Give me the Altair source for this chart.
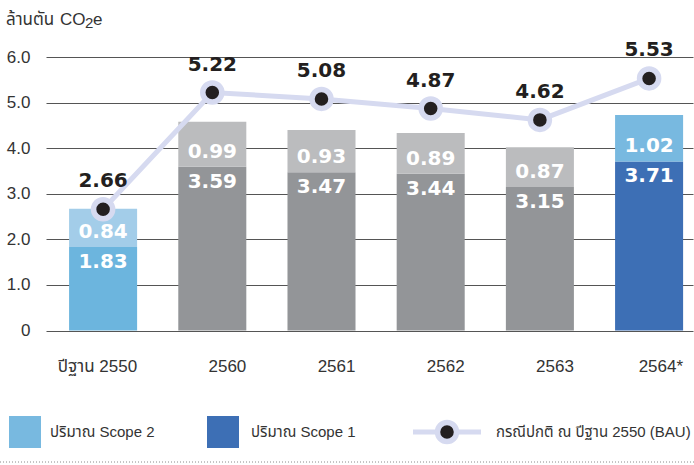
import altair as alt
import pandas as pd

# Emission figures (million tonnes CO2e)
categories = ["ปีฐาน 2550", "2560", "2561", "2562", "2563", "2564*"]
scope1 = [1.83, 3.59, 3.47, 3.44, 3.15, 3.71]
scope2 = [0.84, 0.99, 0.93, 0.89, 0.87, 1.02]
bau = [2.66, 5.22, 5.08, 4.87, 4.62, 5.53]
period = ["base", "hist", "hist", "hist", "hist", "target"]

legend_labels = ["ปริมาณ Scope 2", "ปริมาณ Scope 1", "กรณีปกติ ณ ปีฐาน 2550 (BAU)"]

df = pd.DataFrame({"cat": categories, "s1": scope1, "s2": scope2,
                   "bau": bau, "period": period})
df["top"] = df["s1"] + df["s2"]

period_domain = ["base", "hist", "target"]
scope1_colors = ["#6cb5de", "#939598", "#3d6fb5"]
scope2_colors = ["#a3cde9", "#bbbcbe", "#78b9e0"]
LAVENDER = "#d6daf0"
INK = "#231f20"

THAI = "Liberation Sans, Noto Sans Thai, sans-serif"
NUM = "DejaVu Sans"

x_enc = alt.X(
    "cat:N", sort=categories, title=None,
    scale=alt.Scale(paddingInner=0.377, paddingOuter=0.151, align=0.7),
    axis=alt.Axis(labelAlign="right", labelOffset=34, labelPadding=28,
                  labelFontSize=17, labelFont=THAI, labelColor="#333333",
                  labelAngle=0, domain=False, ticks=False, grid=False),
)

y_scale = alt.Scale(domain=[0, 6], nice=False, zero=True)
y_axis = alt.Axis(values=[0, 1, 2, 3, 4, 5, 6],
                  labelExpr="datum.value == 0 ? '0' : format(datum.value, '.1f')",
                  labelFont=THAI, labelFontSize=17, labelColor="#333333",
                  labelPadding=16, labelAlign="right", labelBaseline="middle",
                  domain=False, ticks=False, grid=True,
                  gridColor="#555555", gridWidth=1)


def y_enc(field):
    return alt.Y(f"{field}:Q", title=None, scale=y_scale, axis=y_axis)


base = alt.Chart(df)

bars1 = base.mark_bar().encode(
    x=x_enc, y=y_enc("s1"), y2=alt.datum(0),
    color=alt.Color("period:N", legend=None,
                    scale=alt.Scale(domain=period_domain, range=scope1_colors)),
)
bars2 = base.mark_bar().encode(
    x=x_enc, y=y_enc("s1"), y2="top:Q",
    color=alt.Color("period:N", legend=None,
                    scale=alt.Scale(domain=period_domain, range=scope2_colors)),
)

lbl1 = base.mark_text(font=NUM, fontWeight="bold", fontSize=20, color="white",
                      baseline="middle", dy=15).encode(
    x=x_enc, y=y_enc("s1"), text=alt.Text("s1:Q", format=".2f"))
lbl2 = base.mark_text(font=NUM, fontWeight="bold", fontSize=20, color="white",
                      baseline="middle", dy=-15).encode(
    x=x_enc, y=y_enc("s1"), text=alt.Text("s2:Q", format=".2f"))

line = base.mark_line(color=LAVENDER, strokeWidth=5).encode(x=x_enc, y=y_enc("bau"))
dots = base.mark_circle(size=363, color=INK, opacity=1, stroke=LAVENDER,
                        strokeWidth=5.5).encode(x=x_enc, y=y_enc("bau"))
totals = base.mark_text(font=NUM, fontWeight="bold", fontSize=20, color=INK,
                        baseline="middle", dy=-28).encode(
    x=x_enc, y=y_enc("bau"), text=alt.Text("bau:Q", format=".2f"))

# Unit caption above the value axis
one = pd.DataFrame({"k": [0]})


def caption(text, xpos, ypos, size):
    return alt.Chart(one).mark_text(font=THAI, fontSize=size, color="#333333",
                                    align="left", baseline="middle").encode(
        x=alt.value(xpos), y=alt.value(ypos), text=alt.value(text))


unit_th = caption("ล้านตัน", -40, -37, 17)
unit_co = caption("CO", 14, -37, 17)
unit_sub = caption("2", 39, -34, 15)
unit_e = caption("e", 47, -37, 17)

# Legend row beneath the chart
leg_y = 375
sw1 = alt.Chart(one).mark_rect(color=scope2_colors[2]).encode(
    x=alt.value(-37), x2=alt.value(-5), y=alt.value(leg_y - 16), y2=alt.value(leg_y + 16))
sw2 = alt.Chart(one).mark_rect(color=scope1_colors[2]).encode(
    x=alt.value(161), x2=alt.value(193), y=alt.value(leg_y - 16), y2=alt.value(leg_y + 16))
leg_line = alt.Chart(one).mark_rule(color=LAVENDER, strokeWidth=5).encode(
    x=alt.value(367), x2=alt.value(435), y=alt.value(leg_y))
leg_dot = alt.Chart(one).mark_circle(size=363, color=INK, opacity=1, stroke=LAVENDER,
                                     strokeWidth=5.5).encode(
    x=alt.value(401), y=alt.value(leg_y))


def leg_text(label, xpos):
    return alt.Chart(pd.DataFrame({"t": [label]})).mark_text(
        font=THAI, fontSize=15, color="#333333", align="left", baseline="middle"
    ).encode(x=alt.value(xpos), y=alt.value(leg_y), text="t:N")


leg_t1 = leg_text(legend_labels[0], 4)
leg_t2 = leg_text(legend_labels[1], 205)
leg_t3 = leg_text(legend_labels[2], 450)

dotted = alt.Chart(one).mark_rule(color="#8a8a8a", strokeWidth=1,
                                  strokeDash=[1, 2]).encode(
    x=alt.value(-46), x2=alt.value(648), y=alt.value(405))

chart = alt.layer(
    bars1, bars2, lbl1, lbl2, line, dots, totals,
    unit_th, unit_co, unit_sub, unit_e,
    sw1, sw2, leg_line, leg_dot, leg_t1, leg_t2, leg_t3, dotted,
).resolve_scale(color="independent").properties(
    width=647, height=273.5,
    padding={"left": 46, "top": 57, "right": 1, "bottom": 134.5},
    autosize=alt.AutoSizeParams(type="none"),
    background="white",
).configure_view(stroke=None)

chart.save("out.html", embed_options={"renderer": "svg", "actions": False})
